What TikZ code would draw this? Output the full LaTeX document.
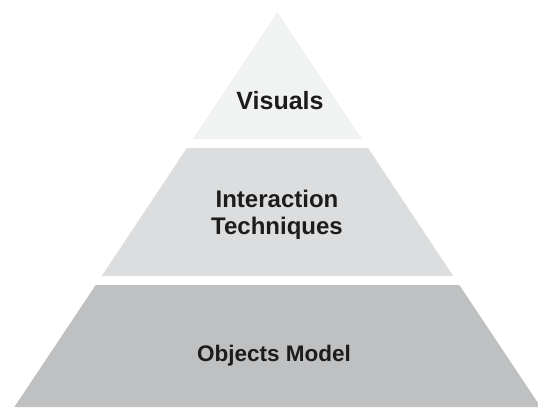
\documentclass[tikz,border=0pt]{standalone}
\usepackage{fontspec}
\setmainfont{Liberation Sans}
\definecolor{tierTop}{HTML}{F1F2F2}
\definecolor{tierMid}{HTML}{DCDDDE}
\definecolor{tierLow}{HTML}{BFC0C2}
\definecolor{labelInk}{HTML}{1C1C1C}
\begin{document}
\begin{tikzpicture}[x=1pt,y=-1pt,
  tier/.style={draw=none},
  tierlabel/.style={font=\fontsize{24}{27}\selectfont\bfseries, text=labelInk, align=center, inner sep=0pt}]
  \useasboundingbox (0,0) rectangle (538,407);
  \clip (0,0) rectangle (538,407);
  % three stacked bands of one pyramid, separated by white gaps
  \fill[tier, tierTop] (277.5,12) -- (362.1,139) -- (192.9,139) -- cycle;
  \fill[tier, tierMid] (186.9,148) -- (368.1,148) -- (453.3,276) -- (101.7,276) -- cycle;
  \fill[tier, tierLow] (95.7,285) -- (459.3,285) -- (540.6,407) -- (14.4,407) -- cycle;
  % band labels
  \node[tierlabel, font=\fontsize{25}{27}\selectfont\bfseries] (visuals) at (280,101) {Visuals};
  \node[tierlabel] (interaction) at (277,215) {Interaction\\Techniques};
  \node[tierlabel, font=\fontsize{22.5}{27}\selectfont\bfseries, anchor=base] (objects) at (274,361) {Objects Model};
\end{tikzpicture}
\end{document}
